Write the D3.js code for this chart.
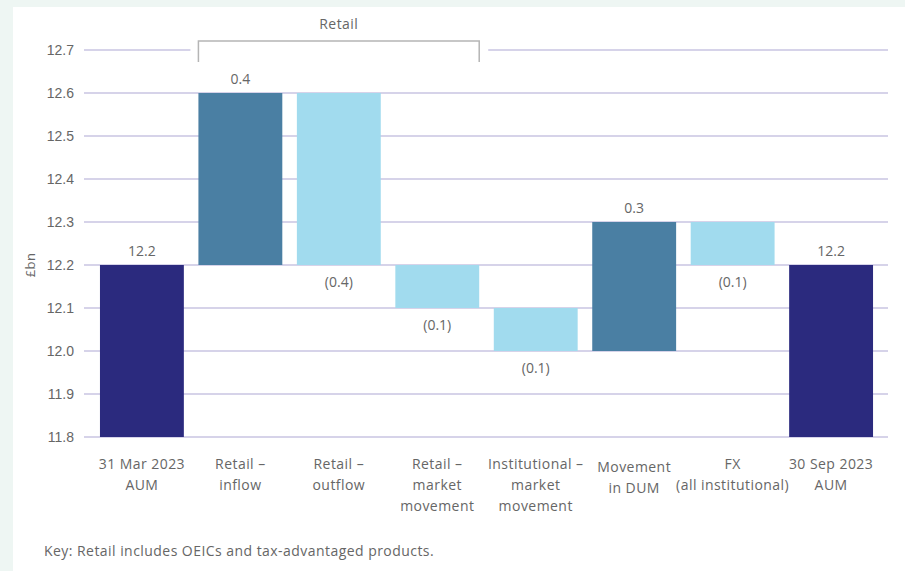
<!DOCTYPE html>
<meta charset="utf-8">
<style>
body { margin: 0; background: #eef6f3; }
svg { display: block; }
.tick-label { font-family: "Liberation Sans", Arial, sans-serif; font-size: 14px; fill: #666; }
.cat-label, .val-label, .note { font-family: "Open Sans", Lato, sans-serif; font-size: 14px; fill: #666; }
.cat-label, .note { letter-spacing: 0.45px; }
</style>
<body>
<script src="https://d3js.org/d3.v7.min.js"></script>
<script>
var categories = [
  ["31 Mar 2023", "AUM"],
  ["Retail \u2013", "inflow"],
  ["Retail \u2013", "outflow"],
  ["Retail \u2013", "market", "movement"],
  ["Institutional \u2013", "market", "movement"],
  ["Movement", "in DUM"],
  ["FX", "(all institutional)"],
  ["30 Sep 2023", "AUM"]
];
var changes = [12.2, 0.4, -0.4, -0.1, -0.1, 0.3, -0.1, 12.2];
var kinds = ["total", "inc", "dec", "dec", "dec", "inc", "dec", "total"];
var valueLabels = ["12.2", "0.4", "(0.4)", "(0.1)", "(0.1)", "0.3", "(0.1)", "12.2"];
var yTicks = [11.8, 11.9, 12.0, 12.1, 12.2, 12.3, 12.4, 12.5, 12.6, 12.7];

var colors = { total: "#2b2a7e", inc: "#4a7fa3", dec: "#a1dbee" };

var W = 905, H = 571;
var svg = d3.select("body").append("svg").attr("width", W).attr("height", H);

// white panel
svg.append("rect").attr("x", 13).attr("y", 7).attr("width", W - 13).attr("height", H - 7).attr("fill", "#fff");

var x = d3.scaleBand().domain(d3.range(categories.length)).range([85, 888])
  .paddingInner(0.148).paddingOuter(0.152);
var y = d3.scaleLinear().domain([11.8, 12.7]).range([437, 50]);

// waterfall geometry
var running = 0;
var bars = changes.map(function(v, i) {
  var lo, hi;
  if (kinds[i] === "total") { lo = 11.8; hi = v; running = v; }
  else { var s = running; running = +(running + v).toFixed(3); lo = Math.min(s, running); hi = Math.max(s, running); }
  return { i: i, lo: lo, hi: hi, kind: kinds[i], label: valueLabels[i], v: v };
});

var bracketL = x(1), bracketR = x(3) + x.bandwidth();

// gridlines
yTicks.forEach(function(t) {
  if (t === 12.7) {
    svg.append("line").attr("x1", 84).attr("x2", bracketL - 8).attr("y1", y(t)).attr("y2", y(t))
      .attr("stroke", "#c9c5e2").attr("stroke-width", 1.5);
    svg.append("line").attr("x1", bracketR + 9).attr("x2", 888).attr("y1", y(t)).attr("y2", y(t))
      .attr("stroke", "#c9c5e2").attr("stroke-width", 1.5);
  } else {
    svg.append("line").attr("x1", 84).attr("x2", 888).attr("y1", y(t)).attr("y2", y(t))
      .attr("stroke", "#c9c5e2").attr("stroke-width", 1.5);
  }
  svg.append("text").attr("class", "tick-label").attr("x", 74).attr("y", y(t) + 5)
    .attr("text-anchor", "end").text(t.toFixed(1));
});

// y label
svg.append("text").attr("class", "cat-label").attr("transform", "translate(35," + y(12.2) + ") rotate(-90)")
  .attr("text-anchor", "middle").style("font-size", "13px").text("\u00a3bn");

// bars
svg.selectAll(".bar").data(bars).enter().append("rect")
  .attr("x", function(d) { return x(d.i); })
  .attr("width", x.bandwidth())
  .attr("y", function(d) { return y(d.hi); })
  .attr("height", function(d) { return y(d.lo) - y(d.hi); })
  .attr("fill", function(d) { return colors[d.kind]; });

// value labels
svg.selectAll(".val-label").data(bars).enter().append("text")
  .attr("class", "val-label")
  .attr("x", function(d) { return x(d.i) + x.bandwidth() / 2; })
  .attr("y", function(d) { return d.v >= 0 ? y(d.hi) - 9 : y(d.lo) + 22; })
  .attr("text-anchor", "middle")
  .text(function(d) { return d.label; });

// category labels
categories.forEach(function(lines, i) {
  var t = svg.append("text").attr("class", "cat-label").attr("text-anchor", "middle")
    .attr("x", x(i) + x.bandwidth() / 2).attr("y", i === 5 ? 472 : 469);
  lines.forEach(function(l, j) {
    t.append("tspan").attr("x", x(i) + x.bandwidth() / 2).attr("dy", j === 0 ? 0 : 21).text(l);
  });
});

// retail bracket
svg.append("path")
  .attr("d", "M" + bracketL + "," + 62 + "V41H" + bracketR + "V62")
  .attr("fill", "none").attr("stroke", "#b5b5b5").attr("stroke-width", 1.5);
svg.append("text").attr("class", "cat-label").attr("x", (bracketL + bracketR) / 2).attr("y", 29)
  .attr("text-anchor", "middle").text("Retail");

// key
svg.append("text").attr("class", "note").attr("x", 44).attr("y", 556)
  .text("Key: Retail includes OEICs and tax-advantaged products.");
</script>
</body>
